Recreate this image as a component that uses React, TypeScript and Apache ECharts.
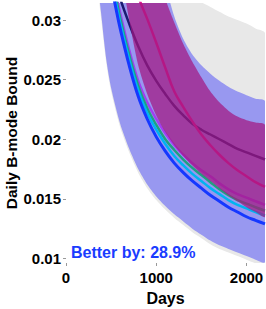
import React, { useEffect, useRef } from "react";
import * as echarts from "echarts";

// ---- data ----
const bandX = [350, 400, 450, 500, 600, 700, 800, 900, 1000, 1100, 1200, 1300, 1400, 1500, 1600, 1700, 1800, 1900, 2000, 2100, 2205];
const grayLo = [0.0334, 0.0294, 0.0262, 0.024, 0.021, 0.0189, 0.0172, 0.0159, 0.0149, 0.0141, 0.0134, 0.0128, 0.0122, 0.0117, 0.0112, 0.0108, 0.0105, 0.0102, 0.0099, 0.0096, 0.0094];
const grayUp = [0.09, 0.08, 0.072, 0.066, 0.056, 0.049, 0.044, 0.04, 0.0375, 0.0357, 0.0342, 0.033, 0.0321, 0.0315, 0.0311, 0.0307, 0.0303, 0.03, 0.0297, 0.0293, 0.0289];
const blueLo = [0.0339, 0.0298, 0.0265, 0.0243, 0.0213, 0.0192, 0.0175, 0.0162, 0.0152, 0.0144, 0.0137, 0.0131, 0.0125, 0.012, 0.0115, 0.0111, 0.0108, 0.0105, 0.0102, 0.0099, 0.0097];
const blueUp = [0.11, 0.1, 0.09, 0.08, 0.065, 0.055, 0.047, 0.041, 0.0365, 0.033, 0.0303, 0.0284, 0.0271, 0.0262, 0.0255, 0.0249, 0.0244, 0.024, 0.0237, 0.0234, 0.0232];
const purpleLo = [0.052, 0.047, 0.043, 0.04, 0.0345, 0.03, 0.0262, 0.0238, 0.022, 0.0206, 0.0195, 0.0186, 0.0178, 0.0171, 0.0165, 0.0159, 0.0153, 0.0148, 0.0143, 0.0139, 0.0135];
const purpleUp = [0.083, 0.076, 0.07, 0.065, 0.056, 0.049, 0.043, 0.038, 0.0345, 0.0318, 0.0298, 0.028, 0.0265, 0.0252, 0.024, 0.0231, 0.0224, 0.0219, 0.0216, 0.0214, 0.0212];

const lineX = [500, 550, 600, 700, 800, 900, 1000, 1100, 1200, 1300, 1400, 1500, 1600, 1700, 1800, 1900, 2000, 2100, 2205];
const blueLine = [0.033, 0.0311, 0.0293, 0.0262, 0.0236, 0.0217, 0.0202, 0.019, 0.018, 0.0172, 0.0165, 0.0159, 0.0153, 0.0148, 0.0143, 0.0139, 0.0135, 0.0132, 0.0129];
const cyanLine = [0.0335, 0.0316, 0.0298, 0.0267, 0.0241, 0.0222, 0.0208, 0.0196, 0.0186, 0.0178, 0.0171, 0.0165, 0.0159, 0.0154, 0.0149, 0.0145, 0.0142, 0.0139, 0.0136];
const tealLine = [0.0339, 0.032, 0.0302, 0.0271, 0.0245, 0.0226, 0.0212, 0.02, 0.0191, 0.0183, 0.0176, 0.017, 0.0164, 0.0158, 0.0153, 0.0149, 0.0146, 0.0143, 0.014];
const violetLine = [0.0343, 0.0324, 0.0306, 0.0275, 0.0249, 0.0231, 0.0217, 0.0205, 0.0195, 0.0187, 0.018, 0.0174, 0.0169, 0.0163, 0.0158, 0.0154, 0.0151, 0.0148, 0.0145];
const navyLine = [0.0345, 0.0331, 0.0318, 0.0297, 0.0278, 0.0262, 0.0249, 0.0238, 0.0228, 0.022, 0.0213, 0.0208, 0.0204, 0.02, 0.0196, 0.0192, 0.0189, 0.0186, 0.0183];
const magentaLine = [0.042, 0.04, 0.038, 0.0345, 0.032, 0.0301, 0.0281, 0.026, 0.024, 0.0227, 0.0215, 0.0204, 0.0195, 0.0187, 0.018, 0.0174, 0.0169, 0.0164, 0.016];

const xTicks = [0, 1000, 2000];
const yTicks = [0.01, 0.015, 0.02, 0.025, 0.03];
const annotation = "Better by: 28.9%";

const FONT = "Liberation Sans";

function pairs(xs: number[], ys: number[]) {
  return xs.map((x, i) => [x, ys[i]]);
}

function band(name: string, lo: number[], up: number[], color: string, opacity: number, z: number) {
  return {
    name,
    type: "custom",
    clip: true,
    silent: true,
    z,
    data: [[bandX[0], lo[0]]],
    renderItem: (_params: any, api: any) => {
      const top = bandX.map((x, i) => api.coord([x, up[i]]));
      const bot = bandX.map((x, i) => api.coord([x, lo[i]])).reverse();
      return {
        type: "polygon",
        shape: { points: top.concat(bot), smooth: 0.25 },
        style: { fill: color, opacity, stroke: "none" },
      };
    },
  };
}

function curve(name: string, ys: number[], color: string, width: number, z: number) {
  return {
    name,
    type: "line",
    z,
    data: pairs(lineX, ys),
    symbol: "none",
    smooth: 0.4,
    lineStyle: { color, width },
    silent: true,
  };
}

export default function App() {
  const ref = useRef<HTMLDivElement>(null);
  useEffect(() => {
    if (!ref.current) return;
    const chart = echarts.init(ref.current, undefined, { renderer: "svg" });
    chart.setOption({
      animation: false,
      backgroundColor: "#ffffff",
      grid: { left: 66, right: 1, top: 3, bottom: 46, outerBoundsMode: "none", containLabel: false },
      xAxis: {
        type: "value",
        min: 0,
        max: 2205,
        name: "Days",
        nameLocation: "middle",
        nameGap: 27,
        nameMoveOverlap: false,
        nameTextStyle: { fontFamily: FONT, fontWeight: "bold", fontSize: 16, color: "#000" },
        axisLine: { show: false },
        splitLine: { show: false },
        axisTick: { show: true, length: 3, customValues: xTicks, lineStyle: { color: "#999" } },
        axisLabel: {
          customValues: xTicks,
          margin: 7,
          alignMinLabel: "center",
          alignMaxLabel: "center",
          fontFamily: FONT,
          fontWeight: "bold",
          fontSize: 15,
          color: "#000",
          formatter: (v: number) => String(v),
        },
      },
      yAxis: {
        type: "value",
        min: 0.00962,
        max: 0.03143,
        name: "Daily B-mode Bound",
        nameLocation: "middle",
        nameGap: 47,
        nameMoveOverlap: false,
        nameTextStyle: { fontFamily: FONT, fontWeight: "bold", fontSize: 15.5, color: "#000" },
        axisLine: { show: false },
        splitLine: { show: false },
        axisTick: { show: true, length: 3, customValues: yTicks, lineStyle: { color: "#999" } },
        axisLabel: {
          customValues: yTicks,
          margin: 5,
          fontFamily: FONT,
          fontWeight: "bold",
          fontSize: 15,
          color: "#000",
          formatter: (v: number) => String(+v.toFixed(3)),
        },
      },
      graphic: [
        {
          type: "text",
          left: 71,
          top: 244,
          z: 100,
          style: {
            text: annotation,
            fill: "#1a3cff",
            font: `bold 16px "${FONT}"`,
          },
        },
      ],
      series: [
        band("gray", grayLo, grayUp, "#e8e8e8", 1, 1),
        band("blue", blueLo, blueUp, "#9898f0", 1, 1),
        curve("navy", navyLine, "#1a1a70", 2.5, 2),
        curve("magenta", magentaLine, "#e01890", 2.5, 2),
        curve("violet", violetLine, "#a040f0", 2.5, 2),
        curve("teal", tealLine, "#20a080", 2.5, 2),
        curve("cyan", cyanLine, "#00b4f0", 2.5, 2),
        band("purple", purpleLo, purpleUp, "#a31881", 0.72, 3),
        curve("blueLine", blueLine, "#1538ff", 3, 4),
      ],
    });
    return () => chart.dispose();
  }, []);
  return (
    <div
      ref={ref}
      style={{ position: "absolute", left: 0, top: 0, width: 266, height: 309 }}
    />
  );
}
